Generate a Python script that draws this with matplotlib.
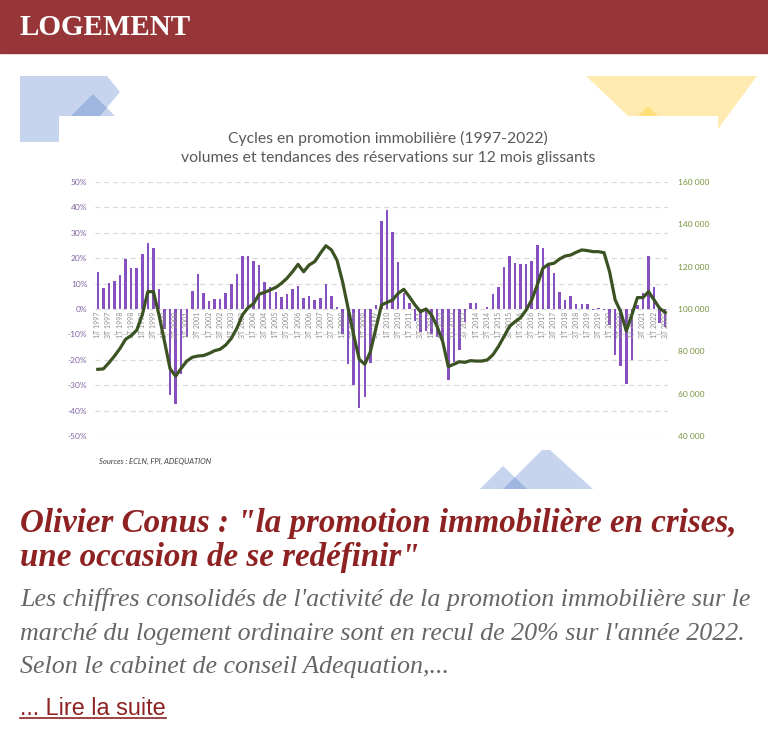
import matplotlib
matplotlib.use("Agg")
import matplotlib.pyplot as plt
from matplotlib.patches import Polygon, Rectangle
from matplotlib import transforms
import numpy as np

# ---------------- data ----------------
years = list(range(1997, 2023))
quarter_labels = [f"{q}T {y}" for y in years for q in (1, 2, 3, 4)][:103]

variation_pct = [
    14.5, 8.4, 10.4, 11.0, 13.4, 19.7, 16.0, 16.0, 21.8, 25.8,
    24.2, 7.8, -8.0, -34.0, -37.5, -25.5, -11.0, 7.1, 13.8, 6.4,
    3.3, 4.1, 3.8, 6.4, 9.7, 13.7, 20.7, 20.8, 19.0, 17.4,
    10.5, 8.7, 6.6, 4.7, 5.9, 7.9, 9.2, 4.5, 5.0, 3.4,
    4.2, 9.7, 5.3, 0.7, -10.0, -21.8, -30.0, -39.0, -34.6, -21.4,
    1.7, 34.7, 39.0, 30.3, 18.4, 6.2, 2.2, -4.6, -9.0, -8.5,
    -10.0, -11.0, -13.0, -28.0, -21.0, -16.0, -5.0, 2.2, 2.5, 0.0,
    0.7, 5.9, 8.6, 16.7, 20.9, 18.0, 17.9, 17.8, 19.0, 25.3,
    24.0, 17.8, 14.2, 6.8, 3.4, 5.0, 1.8, 1.8, 1.8, -0.3,
    0.3, -0.2, -6.3, -18.0, -22.5, -29.7, -20.0, 1.6, 6.2, 21.0,
    8.6, -5.7, -7.0,
]

reservations_12m = [
    71.5, 71.7, 74.6, 77.8, 81.4, 85.7, 87.4, 90.0, 97.2, 108.2,
    108.2, 97.2, 84.6, 71.7, 68.3, 72.0, 75.4, 77.2, 77.8, 78.0,
    79.0, 80.3, 81.0, 83.0, 86.1, 90.9, 97.2, 100.6, 102.5, 107.0,
    107.9, 109.0, 110.2, 112.1, 114.5, 117.6, 121.1, 117.6, 120.8, 122.4,
    126.3, 129.9, 127.9, 123.1, 112.9, 100.3, 87.7, 76.2, 73.9, 79.8,
    90.9, 101.9, 103.1, 104.3, 107.4, 109.3, 105.8, 102.0, 98.7, 100.0,
    97.2, 91.7, 84.6, 72.8, 73.9, 75.1, 74.8, 75.6, 75.4, 75.4,
    75.9, 78.3, 82.2, 86.9, 91.7, 94.0, 95.9, 99.5, 104.3, 111.3,
    119.2, 121.1, 121.6, 123.6, 125.0, 125.5, 126.8, 127.9, 127.6, 127.1,
    127.1, 126.6, 117.6, 104.3, 98.7, 89.6, 97.2, 105.4, 105.4, 108.2,
    104.3, 100.3, 98.4,
]
reservations_12m = [v * 1000 for v in reservations_12m]

left_ticks = [50, 40, 30, 20, 10, 0, -10, -20, -30, -40, -50]
right_ticks = [160000, 140000, 120000, 100000, 80000, 60000, 40000]

chart_title = "Cycles en promotion immobilière (1997-2022)\nvolumes et tendances des réservations sur 12 mois glissants"
source_text = "Sources : ECLN, FPI, ADEQUATION"
header_text = "LOGEMENT"
article_title = ["Olivier Conus : \"la promotion immobilière en crises,",
                 "une occasion de se redéfinir\""]
article_body = ["Les chiffres consolidés de l'activité de la promotion immobilière sur le",
                "marché du logement ordinaire sont en recul de 20% sur l'année 2022.",
                "Selon le cabinet de conseil Adequation,..."]
link_text = "... Lire la suite"

# ---------------- figure ----------------
W, H = 768, 743
fig = plt.figure(figsize=(W / 100, H / 100), dpi=100)
bg = fig.add_axes([0, 0, 1, 1])
bg.set_xlim(0, W)
bg.set_ylim(H, 0)
bg.axis("off")

RED = "#963638"
bg.add_patch(Rectangle((0, 0), W, 53, color=RED, zorder=1))
bg.text(20, 35, header_text, color="white", fontsize=21, fontweight="bold",
        family="Liberation Serif", va="baseline", ha="left", zorder=2)

blue = "#4472C4"
yellow = "#FFC000"
# decorative shapes behind chart image
bg.add_patch(Polygon([(20, 76), (107, 76), (120, 92), (95, 122), (59, 122), (59, 142), (20, 142)],
                     closed=True, facecolor=blue, alpha=0.3, lw=0, zorder=1))
bg.add_patch(Polygon([(93, 94), (124, 125), (62, 125)], closed=True,
                     facecolor=blue, alpha=0.3, lw=0, zorder=1))
bg.add_patch(Polygon([(586, 76), (757, 76), (718, 129), (718, 116), (628, 116)],
                     closed=True, facecolor=yellow, alpha=0.3, lw=0, zorder=1))
bg.add_patch(Polygon([(648, 106), (668, 126), (628, 126)], closed=True,
                     facecolor=yellow, alpha=0.3, lw=0, zorder=1))
bg.add_patch(Rectangle((59, 116), 718 - 59, 374, facecolor="white", lw=0, zorder=3))
bg.add_patch(Polygon([(480, 489), (503, 466), (527, 489)], closed=True,
                     facecolor=blue, alpha=0.3, lw=0, zorder=4))
bg.add_patch(Polygon([(503, 489), (542, 450), (550, 450), (593, 489)], closed=True,
                     facecolor=blue, alpha=0.3, lw=0, zorder=4))

# chart title & source
bg.text(388, 143, chart_title.split("\n")[0], ha="center", va="baseline",
        fontsize=11.3, color="#595959", family="Lato", zorder=5)
bg.text(388, 162, chart_title.split("\n")[1], ha="center", va="baseline",
        fontsize=11.3, color="#595959", family="Lato", zorder=5)
bg.text(99, 464, source_text, ha="left", va="baseline", fontsize=5.5,
        style="italic", color="#404040", family="Lato", zorder=5)

# article texts
TITLE_RED = "#8E2222"
bg.text(20, 532, article_title[0], ha="left", va="baseline", fontsize=23.8,
        fontweight="bold", style="italic", color=TITLE_RED, family="Liberation Serif")
bg.text(20, 566, article_title[1], ha="left", va="baseline", fontsize=23.8,
        fontweight="bold", style="italic", color=TITLE_RED, family="Liberation Serif")
for txt, yb in zip(article_body, [606, 640, 673]):
    bg.text(20, yb, txt, ha="left", va="baseline", fontsize=18.7,
            style="italic", color="#666666", family="Liberation Serif")
lk = bg.text(20, 715, link_text, ha="left", va="baseline", fontsize=16.8,
             color=TITLE_RED, family="Liberation Sans")
fig.canvas.draw()
bb = lk.get_window_extent()
inv = bg.transData.inverted()
(x0, _), (x1, _) = inv.transform([(bb.x0, bb.y0), (bb.x1, bb.y0)])
bg.plot([x0, x1], [718, 718], color=TITLE_RED, lw=1.2)

# ---------------- chart ----------------
L, R, T, B = 95, 668, 182, 436
ax = fig.add_axes([L / W, 1 - B / H, (R - L) / W, (B - T) / H], zorder=6)
ax.patch.set_alpha(0)
n = len(variation_pct)
x = np.arange(n)
ax.set_xlim(-0.5, n - 0.5)
ax.set_ylim(-50, 50)
for t in left_ticks:
    ax.axhline(t, color="#D9D9D9", lw=0.9, ls=(0, (4, 3)), zorder=0)
ax.bar(x, variation_pct, width=0.45, color="#8650C0", zorder=2)
for s in ax.spines.values():
    s.set_visible(False)
ax.set_xticks([])
ax.set_yticks(left_ticks)
ax.set_yticklabels([f"{t}%" for t in left_ticks], fontsize=6, color="#8064A2", family="Lato")
ax.tick_params(axis="y", length=0, pad=5.5)

off = transforms.offset_copy(ax.transData, fig=fig, x=0, y=-2, units="points")
for i in range(0, n, 2):
    ax.text(i, 0, quarter_labels[i], rotation=90, ha="center", va="top",
            fontsize=5.0, color="#8C8C8C", transform=off, zorder=3, family="Lato")

ax2 = ax.twinx()
ax2.set_ylim(40000, 160000)
ax2.plot(x, reservations_12m, color="#3B5323", lw=2.3, zorder=4, solid_joinstyle="round")
for s in ax2.spines.values():
    s.set_visible(False)
ax2.set_yticks(right_ticks)
ax2.set_yticklabels([f"{t:,}".replace(",", " ") for t in right_ticks], fontsize=6,
                    color="#77933C", family="Lato")
ax2.tick_params(axis="y", length=0, pad=7.5)

fig.savefig("out.png", dpi=100)
